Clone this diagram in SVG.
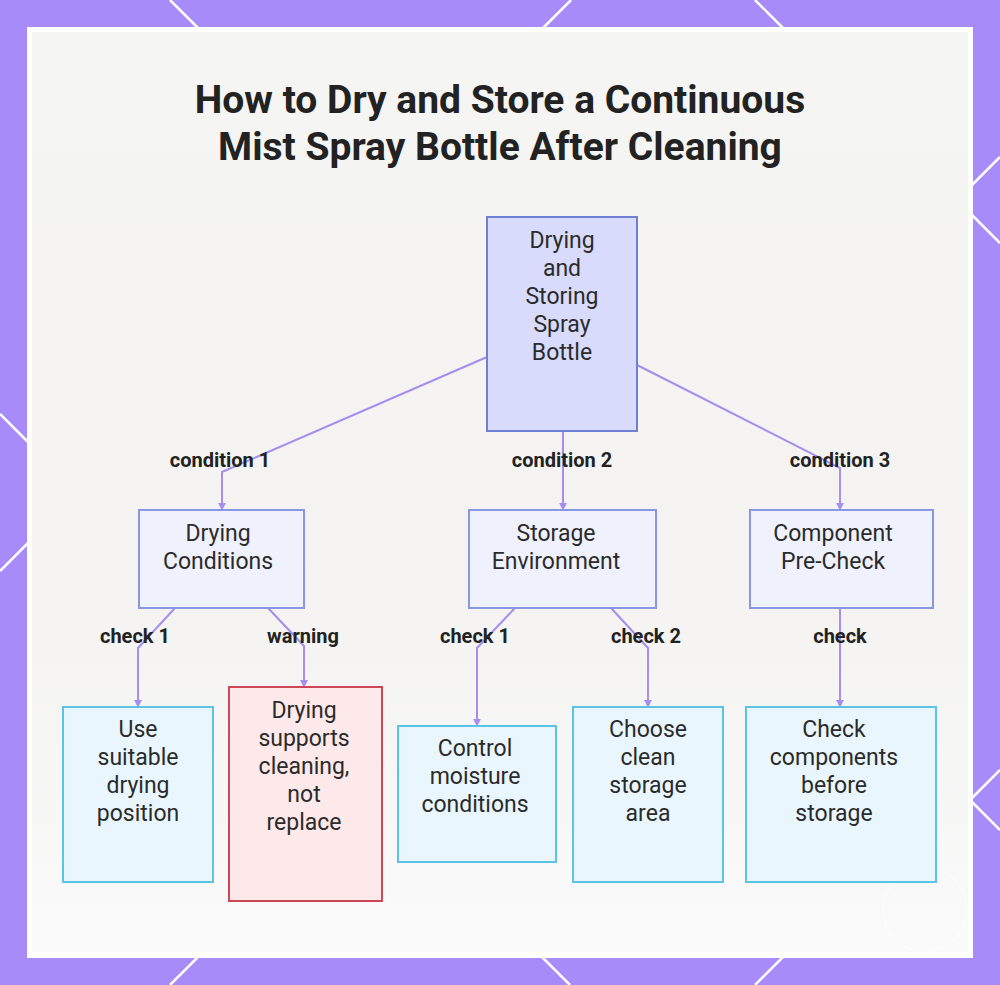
<svg xmlns="http://www.w3.org/2000/svg" width="1000" height="985" viewBox="0 0 1000 985">
<defs>
<style>
.deco{stroke:#ffffff;stroke-width:2.5;fill:none}
.title{font-family:Roboto,"Liberation Sans",sans-serif;font-weight:700;font-size:39px;fill:#222222;text-anchor:middle}
.nt{font-family:Roboto,"Liberation Sans",sans-serif;font-size:23px;fill:#2b2b2b;text-anchor:middle}
.lbl{font-family:Roboto,"Liberation Sans",sans-serif;font-weight:700;font-size:20px;fill:#222222;text-anchor:middle}
.root{fill:#d9dbfc;stroke:#6f7fd6;stroke-width:2}
.mid{fill:#eff1fd;stroke:#8797e2;stroke-width:2}
.leaf{fill:#eaf6fe;stroke:#5cc3e3;stroke-width:2}
.warn{fill:#fde8ea;stroke:#cc4757;stroke-width:2}
.edge{stroke:#a58ef0;stroke-width:2;fill:none;marker-end:url(#ah)}
</style>
<marker id="ah" viewBox="0 0 10 10" refX="9" refY="5" markerWidth="4" markerHeight="4" orient="auto" markerUnits="strokeWidth">
<path d="M0,0 L10,5 L0,10 z" fill="#a58ef0"/>
</marker>
<linearGradient id="bg" x1="0" y1="0" x2="0" y2="1">
<stop offset="0" stop-color="#f5f5f3"/>
<stop offset="0.6" stop-color="#f4f3f2"/>
<stop offset="1" stop-color="#fafafa"/>
</linearGradient>
</defs>
<rect x="0" y="0" width="1000" height="985" fill="#a78bf8"/>
<g id="decor">
<line class="deco" x1="170" y1="0" x2="200" y2="30"/>
<line class="deco" x1="571" y1="0" x2="541" y2="30"/>
<line class="deco" x1="755" y1="0" x2="785" y2="30"/>
<line class="deco" x1="0" y1="414" x2="30" y2="444"/>
<line class="deco" x1="0" y1="571" x2="30" y2="541"/>
<line class="deco" x1="1000" y1="157" x2="970" y2="187"/>
<line class="deco" x1="1000" y1="243" x2="970" y2="213"/>
<line class="deco" x1="1000" y1="770" x2="970" y2="800"/>
<line class="deco" x1="1000" y1="830" x2="970" y2="800"/>
<line class="deco" x1="170" y1="985" x2="200" y2="955"/>
<line class="deco" x1="570" y1="985" x2="540" y2="955"/>
<line class="deco" x1="755" y1="985" x2="785" y2="955"/>
</g>
<rect x="27" y="27" width="946" height="931" fill="#ffffff"/>
<rect x="32" y="32" width="936" height="920" fill="url(#bg)"/>
<circle cx="925" cy="910" r="42" fill="none" stroke="#ffffff" stroke-width="1.2" opacity="0.6"/>
<g id="title">
<text class="title" x="500" y="113">How to Dry and Store a Continuous</text>
<text class="title" x="500" y="160">Mist Spray Bottle After Cleaning</text>
</g>
<g id="connectors">
<polyline class="edge" points="487,357 222,472 222,510"/>
<polyline class="edge" points="563,431 563,510"/>
<polyline class="edge" points="637,365 840,468 840,510"/>
<polyline class="edge" points="175,608 138,648 138,707"/>
<polyline class="edge" points="268,608 304,646 304,687"/>
<polyline class="edge" points="515,608 477,648 477,726"/>
<polyline class="edge" points="611,608 648,648 648,707"/>
<polyline class="edge" points="840,608 840,707"/>
<text class="lbl" x="220" y="467">condition 1</text>
<text class="lbl" x="562" y="467">condition 2</text>
<text class="lbl" x="840" y="467">condition 3</text>
<text class="lbl" x="135" y="643">check 1</text>
<text class="lbl" x="303" y="643">warning</text>
<text class="lbl" x="475" y="643">check 1</text>
<text class="lbl" x="646" y="643">check 2</text>
<text class="lbl" x="840" y="643">check</text>
</g>
<g id="root">
<rect class="root" x="487" y="217" width="150" height="214"/>
<text class="nt" x="562" y="248">Drying</text>
<text class="nt" x="562" y="276">and</text>
<text class="nt" x="562" y="304">Storing</text>
<text class="nt" x="562" y="332">Spray</text>
<text class="nt" x="562" y="360">Bottle</text>
</g>
<g id="drying-conditions">
<rect class="mid" x="139" y="510" width="165" height="98"/>
<text class="nt" x="218" y="541">Drying</text>
<text class="nt" x="218" y="569">Conditions</text>
</g>
<g id="storage-environment">
<rect class="mid" x="469" y="510" width="187" height="98"/>
<text class="nt" x="556" y="541">Storage</text>
<text class="nt" x="556" y="569">Environment</text>
</g>
<g id="component-precheck">
<rect class="mid" x="750" y="510" width="183" height="98"/>
<text class="nt" x="833" y="541">Component</text>
<text class="nt" x="833" y="569">Pre-Check</text>
</g>
<g id="use-position">
<rect class="leaf" x="63" y="707" width="150" height="175"/>
<text class="nt" x="138" y="737">Use</text>
<text class="nt" x="138" y="765">suitable</text>
<text class="nt" x="138" y="793">drying</text>
<text class="nt" x="138" y="821">position</text>
</g>
<g id="warning-node">
<rect class="warn" x="229" y="687" width="153" height="214"/>
<text class="nt" x="304" y="718">Drying</text>
<text class="nt" x="304" y="746">supports</text>
<text class="nt" x="304" y="774">cleaning,</text>
<text class="nt" x="304" y="802">not</text>
<text class="nt" x="304" y="830">replace</text>
</g>
<g id="control-moisture">
<rect class="leaf" x="398" y="726" width="158" height="136"/>
<text class="nt" x="475" y="756">Control</text>
<text class="nt" x="475" y="784">moisture</text>
<text class="nt" x="475" y="812">conditions</text>
</g>
<g id="choose-area">
<rect class="leaf" x="573" y="707" width="150" height="175"/>
<text class="nt" x="648" y="737">Choose</text>
<text class="nt" x="648" y="765">clean</text>
<text class="nt" x="648" y="793">storage</text>
<text class="nt" x="648" y="821">area</text>
</g>
<g id="check-components">
<rect class="leaf" x="746" y="707" width="190" height="175"/>
<text class="nt" x="834" y="737">Check</text>
<text class="nt" x="834" y="765">components</text>
<text class="nt" x="834" y="793">before</text>
<text class="nt" x="834" y="821">storage</text>
</g>
</svg>
